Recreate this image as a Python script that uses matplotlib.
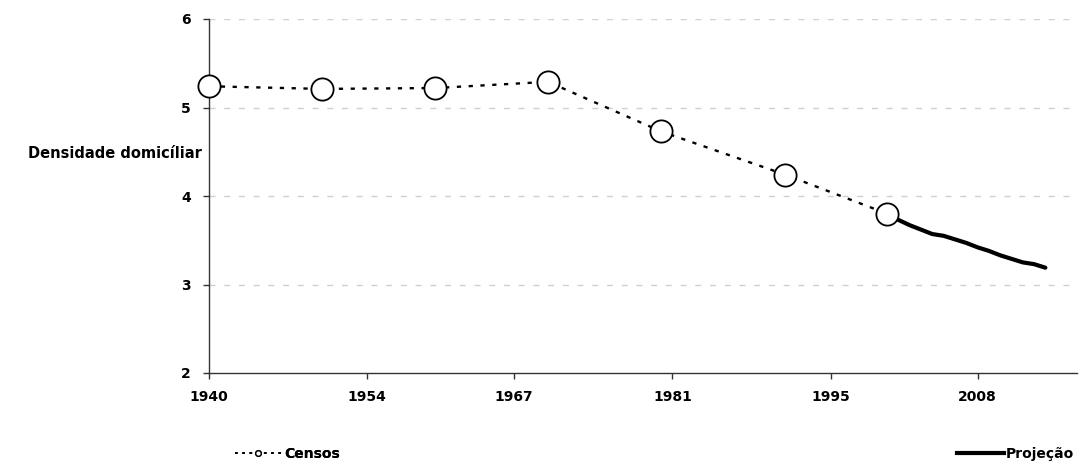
import matplotlib
matplotlib.use('Agg')
import matplotlib.pyplot as plt
from matplotlib.lines import Line2D

## Data
census_years = [1940, 1950, 1960, 1970, 1980, 1991, 2000]
census_density = [5.24, 5.21, 5.22, 5.29, 4.73, 4.24, 3.80]

proj_years = [2000, 2001, 2002, 2003, 2004, 2005, 2006, 2007,
              2008, 2009, 2010, 2011, 2012, 2013, 2014]
proj_density = [3.80, 3.73, 3.67, 3.62, 3.57, 3.55, 3.51, 3.47,
                3.42, 3.38, 3.33, 3.29, 3.25, 3.23, 3.19]

tick_years = [1940, 1954, 1967, 1981, 1995, 2008]
tick_labels = ['1940', '1954', '1967', '1981', '1995', '2008']
y_ticks = [2, 3, 4, 5, 6]

plt.rcParams['font.family'] = ['DejaVu Sans']
plt.rcParams['font.weight'] = 'bold'

fig = plt.figure(figsize=(10.82, 4.68), dpi=100)
ax = fig.add_axes([209/1082, 1 - 373/468, (1077 - 209)/1082, (373 - 19)/468])

## Grid lines
for y in y_ticks[1:]:
    ax.axhline(y, color='#d0d0d0', lw=1, dashes=(4.3, 6.3), zorder=0)

## Census series: dotted line with open circles
ax.plot(census_years, census_density, color='black', lw=1.7, dashes=(1.8, 3.2),
        marker='o', ms=16, mfc='white', mec='black', mew=1.3, zorder=3, clip_on=False)

## Projection series: thick solid line
ax.plot(proj_years, proj_density, color='black', lw=3, solid_capstyle='round', zorder=2)

ax.set_xlim(1940, 2016.8)
ax.set_ylim(2, 6)
ax.set_xticks(tick_years)
ax.set_xticklabels(tick_labels)
ax.set_yticks(y_ticks)

for side in ['top', 'right']:
    ax.spines[side].set_visible(False)
for side in ['left', 'bottom']:
    ax.spines[side].set_color('#333333')
    ax.spines[side].set_linewidth(1)
ax.tick_params(axis='both', length=4, width=1, color='#333333', labelsize=10)
ax.tick_params(axis='y', pad=9)
ax.tick_params(axis='x', pad=8)
for lab in ax.get_xticklabels() + ax.get_yticklabels():
    lab.set_fontweight('bold')

## Horizontal y label
fig.text(202/1082, 1 - 153/468, 'Densidade domicíliar', ha='right', va='center',
         fontsize=10.5, fontweight='bold')

## Legends at the bottom
h_census = Line2D([], [], color='black', lw=1.3, dashes=(1.5, 2.5),
                  marker='o', ms=4, mfc='white', mec='black', mew=1)
h_proj = Line2D([], [], color='black', lw=3)
leg1 = fig.legend([h_census], ['Censos'], loc='center left',
                  bbox_to_anchor=(222/1082, 1 - 454/468), frameon=False,
                  handlelength=3.4, handletextpad=0.2, prop={'size': 10, 'weight': 'bold'})
fig.add_artist(leg1)
fig.legend([h_proj], ['Projeção'], loc='center right',
           bbox_to_anchor=(1086/1082, 1 - 454/468), frameon=False,
           handlelength=3.4, handletextpad=0.1, prop={'size': 10, 'weight': 'bold'})

fig.savefig('out.png', dpi=100, facecolor='white')
